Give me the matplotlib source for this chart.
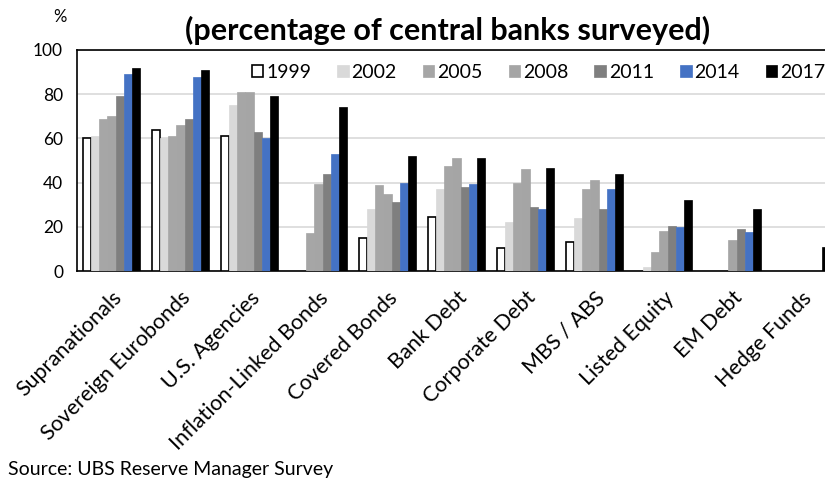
import matplotlib
matplotlib.use("Agg")
import matplotlib.pyplot as plt
import numpy as np

plt.rcParams['font.family'] = ['Lato', 'DejaVu Sans']

categories = ["Supranationals", "Sovereign Eurobonds", "U.S. Agencies",
              "Inflation-Linked Bonds", "Covered Bonds", "Bank Debt",
              "Corporate Debt", "MBS / ABS", "Listed Equity", "EM Debt",
              "Hedge Funds"]
years = ["1999", "2002", "2005", "2008", "2011", "2014", "2017"]

v1999 = [60, 64, 61, 0, 15, 24.5, 10.5, 13, 0, 0, 0]
v2002 = [61, 60, 75, 0, 28, 37, 22, 24, 2, 0, 0]
v2005 = [69, 61, 81, 17, 39, 47.5, 40, 37, 8.5, 0, 0]
v2008 = [70, 66, 81, 39.5, 35, 51, 46, 41, 18, 14, 0]
v2011 = [79, 69, 63, 44, 31, 38, 29, 28, 20.5, 19, 0]
v2014 = [89, 88, 60, 53, 40, 39.5, 28, 37, 20, 17.5, 0]
v2017 = [92, 91, 79, 74, 52, 51, 46.5, 44, 32, 28, 11]
series = [v1999, v2002, v2005, v2008, v2011, v2014, v2017]

colors = ["white", "#D9D9D9", "#A6A6A6", "#A5A5A5", "#7F7F7F", "#4472C4", "black"]
edges = ["black", "#D9D9D9", "#A6A6A6", "#A5A5A5", "#7F7F7F", "#4472C4", "black"]

fig = plt.figure(figsize=(8.25, 4.83), dpi=100)
ax = fig.add_axes([77/825, 1-271/483, 759/825, 221/483])

x = np.arange(len(categories))
w = 0.116
for i, (vals, c, e) in enumerate(zip(series, colors, edges)):
    ec = [e if v > 0 else 'none' for v in vals]
    ax.bar(x + (i - 3) * w, vals, width=w, color=c, edgecolor=ec,
           linewidth=1.2 if i == 0 else 0.5, label=years[i], zorder=3)

ax.set_xlim(-0.5, len(categories) - 0.5)
ax.set_ylim(0, 100)
ax.set_yticks([0, 20, 40, 60, 80, 100])
ax.yaxis.grid(True, color="#D9D9D9", linewidth=1.2, zorder=0)
ax.tick_params(axis='y', length=0, labelsize=12.5, pad=10)
ax.tick_params(axis='x', length=0, pad=12)
ax.set_xticks(x)
ax.set_xticklabels(categories, rotation=45, ha='right', rotation_mode='anchor',
                   fontsize=15.5)
for s in ['top', 'left', 'bottom']:
    ax.spines[s].set_color('black')
    ax.spines[s].set_linewidth(1.2)
ax.spines['right'].set_visible(False)

leg = ax.legend(ncol=7, loc='upper left', bbox_to_anchor=((238-77)/759, 1.0),
                frameon=False, fontsize=14, handlelength=0.6, handleheight=0.6,
                handletextpad=0.15, columnspacing=1.33, borderaxespad=0.5,
                borderpad=0.2)

fig.text(448/825, 1-30/483, "(percentage of central banks surveyed)",
         ha='center', va='center', fontsize=22, fontweight='bold')
fig.text(60/825, 1-17/483, "%", ha='center', va='center', fontsize=12)
fig.text(8/825, 1-470/483, "Source: UBS Reserve Manager Survey",
         ha='left', va='center', fontsize=14)

fig.savefig("out.png", dpi=100)
